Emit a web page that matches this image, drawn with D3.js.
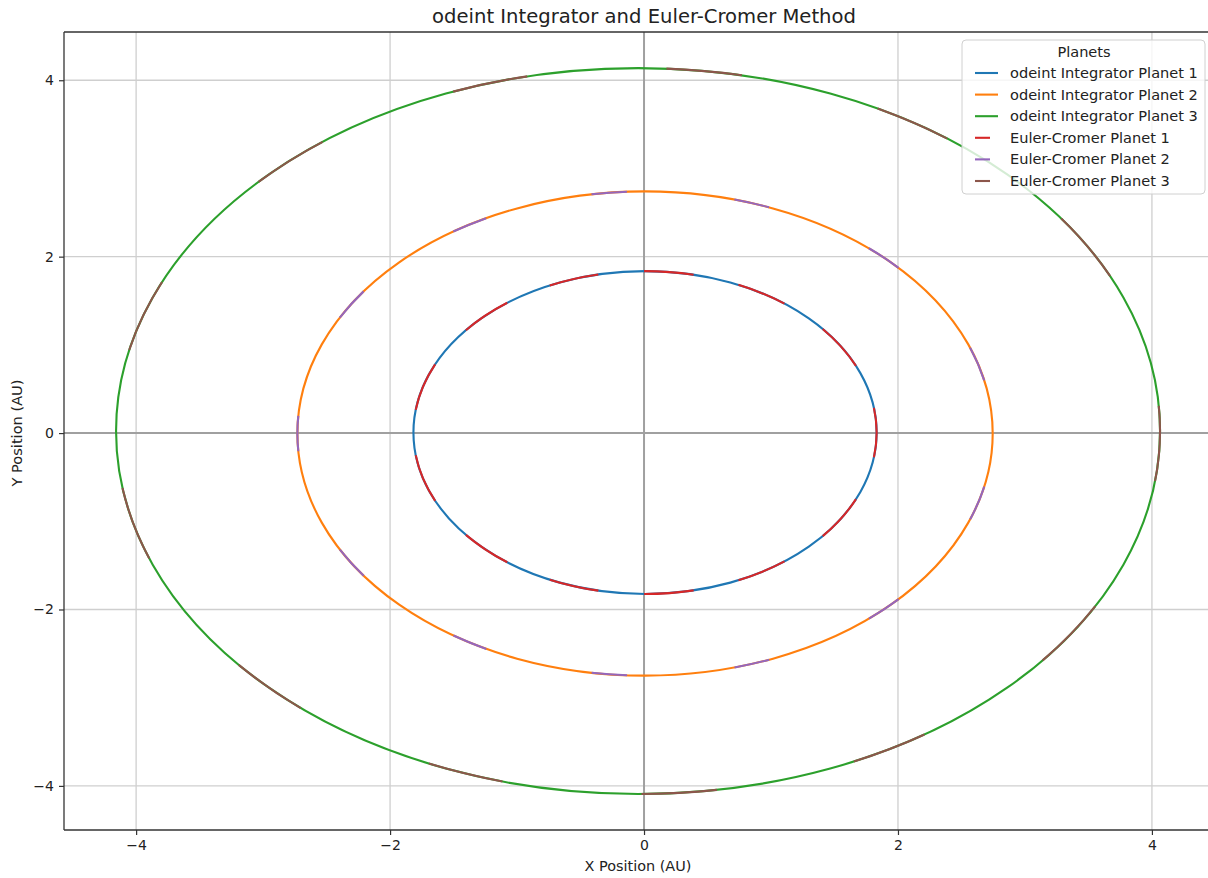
<!DOCTYPE html>
<html>
<head>
<meta charset="utf-8">
<script src="https://cdn.jsdelivr.net/npm/d3@7/dist/d3.min.js"></script>
<style>
  body { margin: 0; background: #fff; }
</style>
</head>
<body>
<div id="chart-container"></div>
<script>
// orbit data (AU)
const planetNames = ['Planet 1', 'Planet 2', 'Planet 3'];
const orbitCenterX = [0.008, 0.008, -0.047];
const orbitCenterY = [0.006, -0.005, 0.023];
const orbitRadiusX = [1.824, 2.738, 4.111];
const orbitRadiusY = [1.830, 2.745, 4.115];
const methods = ['odeint Integrator', 'Euler-Cromer'];
const xTicks = [-4, -2, 0, 2, 4];
const yTicks = [-4, -2, 0, 2, 4];

const odeintColors = ['#1f77b4', '#ff7f0e', '#2ca02c'];
const eulerColors = ['#d62728', '#9467bd', '#8c564b'];
// dash patterns (pathLength 1000) for the Euler-Cromer overlay
const eulerDash = [
  { dash: '40 36.92', offset: 20 },
  { dash: '19 57.92', offset: 509.5 },
  { dash: '27 49.92', offset: 9 }
];

const FONT = '"DejaVu Sans", "Bitstream Vera Sans", Verdana, sans-serif';
const width = 1208, height = 878;
const margin = { top: 32, right: -5, bottom: 48, left: 64 };

const svg = d3.select('#chart-container')
  .append('svg')
  .attr('width', width)
  .attr('height', height)
  .attr('font-family', FONT)
  .style('font-family', FONT);

// scale a text so it spans the width seen in the reference
const fitText = (sel, target) => {
  const size = +sel.attr('font-size');
  const w = sel.node().getComputedTextLength();
  if (w > 0) sel.attr('font-size', size * target / w);
  return sel;
};

const xScale = d3.scaleLinear()
  .domain([-4.568, 4.481])
  .range([margin.left, width - margin.right]);

const yScale = d3.scaleLinear()
  .domain([-4.50, 4.547])
  .range([height - margin.bottom, margin.top]);

// grid
svg.append('g')
  .selectAll('line')
  .data(xTicks)
  .enter()
  .append('line')
  .attr('x1', d => xScale(d)).attr('x2', d => xScale(d))
  .attr('y1', margin.top).attr('y2', height - margin.bottom)
  .attr('stroke', '#cfcfcf').attr('stroke-width', 1.3);

svg.append('g')
  .selectAll('line')
  .data(yTicks)
  .enter()
  .append('line')
  .attr('y1', d => yScale(d)).attr('y2', d => yScale(d))
  .attr('x1', margin.left).attr('x2', width - margin.right)
  .attr('stroke', '#cfcfcf').attr('stroke-width', 1.3);

// zero lines
svg.append('line')
  .attr('x1', margin.left).attr('x2', width - margin.right)
  .attr('y1', yScale(0)).attr('y2', yScale(0))
  .attr('stroke', '#a0a0a0').attr('stroke-width', 2);
svg.append('line')
  .attr('x1', xScale(0)).attr('x2', xScale(0))
  .attr('y1', margin.top).attr('y2', height - margin.bottom)
  .attr('stroke', '#a0a0a0').attr('stroke-width', 2);

// orbits
const orbits = planetNames.map((name, i) => ({
  i,
  cx: orbitCenterX[i], cy: orbitCenterY[i],
  rx: orbitRadiusX[i], ry: orbitRadiusY[i]
}));

const drawOrbit = (sel) => sel
  .attr('cx', d => xScale(d.cx))
  .attr('cy', d => yScale(d.cy))
  .attr('rx', d => xScale(d.cx + d.rx) - xScale(d.cx))
  .attr('ry', d => yScale(d.cy) - yScale(d.cy + d.ry))
  .attr('fill', 'none')
  .attr('stroke-width', 2.1);

svg.append('g').selectAll('ellipse')
  .data(orbits).enter().append('ellipse')
  .call(drawOrbit)
  .attr('stroke', d => odeintColors[d.i]);

svg.append('g').selectAll('ellipse')
  .data(orbits).enter().append('ellipse')
  .call(drawOrbit)
  .attr('pathLength', 1000)
  .attr('stroke', d => eulerColors[d.i])
  .attr('stroke-dasharray', d => eulerDash[d.i].dash)
  .attr('stroke-dashoffset', d => eulerDash[d.i].offset);

// axes
const fmt = d => d3.format('d')(d).replace('-', '\u2212');
const xAxis = svg.append('g')
  .attr('transform', `translate(0, ${height - margin.bottom})`)
  .call(d3.axisBottom(xScale).tickValues(xTicks).tickSize(5).tickPadding(5).tickFormat(fmt));
const yAxis = svg.append('g')
  .attr('transform', `translate(${margin.left}, 0)`)
  .call(d3.axisLeft(yScale).tickValues(yTicks).tickSize(5).tickPadding(5).tickFormat(fmt));

[xAxis, yAxis].forEach(a => {
  a.attr('font-family', FONT);
  a.select('.domain').remove();
  a.selectAll('.tick line').attr('stroke', '#333').attr('stroke-width', 1.2);
  a.selectAll('.tick text').attr('font-size', 14).attr('fill', '#222');
});

// spines
svg.append('line')
  .attr('x1', margin.left).attr('x2', margin.left)
  .attr('y1', margin.top).attr('y2', height - margin.bottom)
  .attr('stroke', '#333').attr('stroke-width', 1.3);
svg.append('line')
  .attr('x1', margin.left).attr('x2', width)
  .attr('y1', margin.top).attr('y2', margin.top)
  .attr('stroke', '#333').attr('stroke-width', 1.3);
svg.append('line')
  .attr('x1', margin.left).attr('x2', width)
  .attr('y1', height - margin.bottom).attr('y2', height - margin.bottom)
  .attr('stroke', '#333').attr('stroke-width', 1.3);

// labels
svg.append('text')
  .attr('x', 644).attr('y', 23)
  .attr('text-anchor', 'middle')
  .attr('font-size', 17.5)
  .attr('fill', '#222')
  .text('odeint Integrator and Euler-Cromer Method')
  .call(fitText, 424);

svg.append('text')
  .attr('x', 638).attr('y', 871)
  .attr('text-anchor', 'middle')
  .attr('font-size', 14)
  .attr('fill', '#222')
  .text('X Position (AU)')
  .call(fitText, 107);

svg.append('text')
  .attr('transform', `translate(22, ${433}) rotate(-90)`)
  .attr('text-anchor', 'middle')
  .attr('font-size', 14)
  .attr('fill', '#222')
  .text('Y Position (AU)')
  .call(fitText, 107);

// legend
const legend = svg.append('g').attr('transform', 'translate(962, 40)');
legend.append('rect')
  .attr('width', 243).attr('height', 154)
  .attr('rx', 4)
  .attr('fill', 'rgba(255,255,255,0.8)')
  .attr('stroke', '#d0d0d0');
const legendTitle = legend.append('text')
  .attr('x', 122).attr('y', 17)
  .attr('text-anchor', 'middle')
  .attr('font-size', 14.6)
  .attr('fill', '#222')
  .text('Planets');

const legendItems = [];
methods.forEach((m, mi) => planetNames.forEach((p, i) => {
  legendItems.push({
    label: `${m} ${p}`,
    color: mi === 0 ? odeintColors[i] : eulerColors[i],
    dashed: mi === 1
  });
}));

const rows = legend.selectAll('.item')
  .data(legendItems).enter().append('g')
  .attr('class', 'item')
  .attr('transform', (d, i) => `translate(0, ${33 + i * 21.6})`);
rows.append('line')
  .attr('x1', 13).attr('x2', d => d.dashed ? 28 : 36)
  .attr('stroke', d => d.color).attr('stroke-width', 2.1);
const labels = rows.append('text')
  .attr('x', 48).attr('y', 5)
  .attr('font-size', 14.6)
  .attr('fill', '#222')
  .text(d => d.label);

// use the longest label to size all legend text like the reference
const first = labels.filter((d, i) => i === 0);
fitText(first, 188);
const legendSize = first.attr('font-size');
labels.attr('font-size', legendSize);
legendTitle.attr('font-size', legendSize);
</script>
</body>
</html>
